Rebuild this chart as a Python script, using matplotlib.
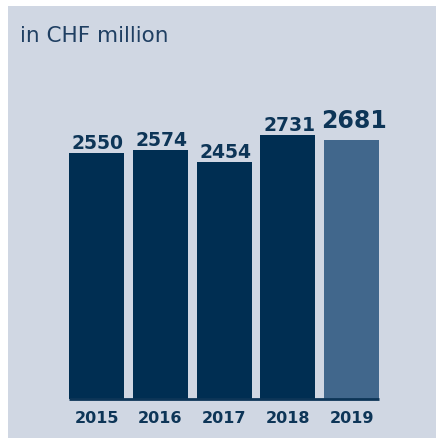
import matplotlib.pyplot as plt
from matplotlib.patches import Rectangle

years = ["2015", "2016", "2017", "2018", "2019"]
values = [2550, 2574, 2454, 2731, 2681]
highlight = [False, False, False, False, True]

W, H = 436, 439
PANEL = "#d0d7e3"
DARK = "#002e52"
LIGHT = "#41678c"
TEXT = "#0d3557"

fig = plt.figure(figsize=(W / 100, H / 100), dpi=100)
fig.patch.set_facecolor("white")
# light blue panel behind everything
fig.patches.append(Rectangle((8 / W, 0), 1 - 8 / W, 1 - 7 / H,
                             transform=fig.transFigure, facecolor=PANEL,
                             edgecolor="none", zorder=-1))

fig.text(20 / W, 1 - 42 / H, "in CHF million", fontsize=15.5, color="#1f3f62",
         ha="left", va="baseline")

# axes placed in pixels: bar centres 63.75 px apart, baseline at y=400
px = 63.75
left = 96.5 - px / 2
ax = fig.add_axes([left / W, 39 / H, 5 * px / W, 290 / H])
ax.set_facecolor("none")
ax.set_xlim(-0.5, 4.5)
ax.set_ylim(0, 3000)

xs = range(len(years))
colors = [LIGHT if h else DARK for h in highlight]
ax.bar(xs, values, width=55 / px, color=colors, zorder=2)
ax.plot([-0.5 + 4.5 / px, 4.5 - 4.5 / px], [0, 0], color=TEXT, lw=2,
        solid_capstyle="butt", zorder=3, clip_on=False)

for x, v, h in zip(xs, values, highlight):
    ax.annotate(f"{v}", (x, v), xytext=(2 if h else 1, 9 if h else 3.5),
                textcoords="offset points", ha="center", va="baseline",
                fontsize=17 if h else 13.5, fontweight="bold", color=TEXT)

ax.set_xticks(list(xs))
ax.set_xticklabels(years, fontsize=11.5, fontweight="bold", color=TEXT)
ax.tick_params(axis="x", length=0, pad=8)
ax.set_yticks([])
for s in ax.spines.values():
    s.set_visible(False)

fig.savefig("out.png", dpi=100)
